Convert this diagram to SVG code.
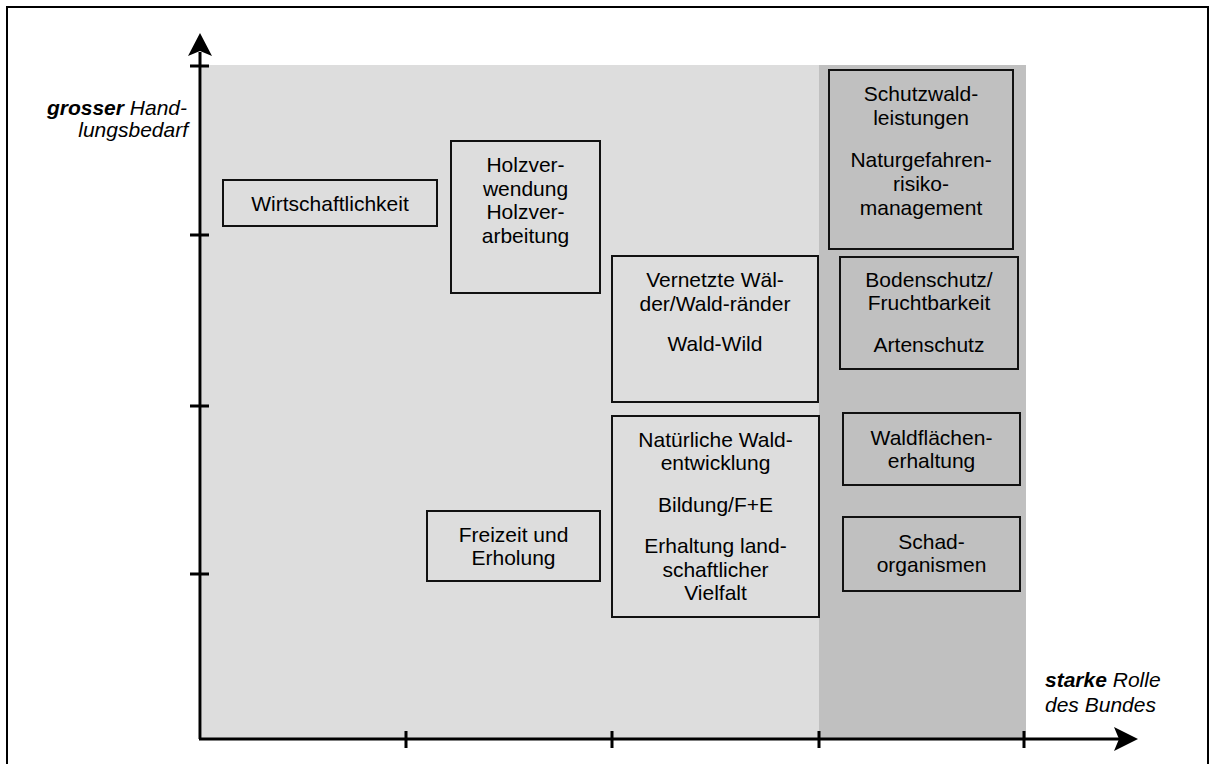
<svg xmlns="http://www.w3.org/2000/svg" width="1210" height="764" viewBox="0 0 1210 764">
  <style>
    .frame { fill: none; stroke: #000; stroke-width: 2; }
    .zone-a { fill: #dddddd; }
    .zone-b { fill: #c0c0c0; }
    .axis { stroke: #000; stroke-width: 3; fill: none; }
    .head { fill: #000; }
    .box { fill: none; stroke: #111; stroke-width: 2; }
    text { font-family: "Liberation Sans", Arial, sans-serif; font-size: 21px; fill: #000; }
    .c { text-anchor: middle; }
    .lbl { font-style: italic; }
    .lbl tspan.b { font-weight: bold; }
  </style>

  <!-- outer frame -->
  <rect class="frame" x="7" y="7" width="1201" height="780"/>

  <!-- background zones -->
  <rect class="zone-a" x="202" y="65" width="617" height="673"/>
  <rect class="zone-b" x="819" y="65" width="207" height="673"/>

  <!-- axes, ticks and arrowheads -->
  <g id="connectors">
    <path class="axis" d="M200,739 V52"/>
    <path class="axis" d="M199,739 H1122"/>
    <path class="axis" d="M190,66 H209 M190,235 H209 M190,406 H209 M190,574 H209"/>
    <path class="axis" d="M406,731 V748 M612,731 V748 M819,731 V748 M1024,731 V748"/>
    <path class="head" d="M200,33 L212,56 L200,51 L188,56 Z"/>
    <path class="head" d="M1138,739 L1114,727 L1119,739 L1114,751 Z"/>
  </g>

  <!-- axis captions -->
  <g id="label-y">
    <text class="lbl" x="187" y="115" text-anchor="end"><tspan class="b">grosser</tspan> Hand-</text>
    <text class="lbl" x="188" y="137" text-anchor="end">lungsbedarf</text>
  </g>
  <g id="label-x">
    <text class="lbl" x="1045" y="687"><tspan class="b">starke</tspan> Rolle</text>
    <text class="lbl" x="1045" y="712">des Bundes</text>
  </g>

  <!-- topic boxes -->
  <g id="wirtschaftlichkeit">
    <rect class="box" x="223" y="180" width="214" height="46"/>
    <text class="c" x="330" y="211">Wirtschaftlichkeit</text>
  </g>
  <g id="holz">
    <rect class="box" x="451" y="141" width="149" height="152"/>
    <text class="c" x="525.5" y="172">Holzver-</text>
    <text class="c" x="525.5" y="195.5">wendung</text>
    <text class="c" x="525.5" y="219">Holzver-</text>
    <text class="c" x="525.5" y="242.5">arbeitung</text>
  </g>
  <g id="vernetzte-waelder">
    <rect class="box" x="612" y="256" width="206" height="146"/>
    <text class="c" x="715" y="287">Vernetzte Wäl-</text>
    <text class="c" x="715" y="311">der/Wald-ränder</text>
    <text class="c" x="715" y="351">Wald-Wild</text>
  </g>
  <g id="natuerliche-entwicklung">
    <rect class="box" x="612" y="416" width="207" height="201"/>
    <text class="c" x="715.5" y="447">Natürliche Wald-</text>
    <text class="c" x="715.5" y="470">entwicklung</text>
    <text class="c" x="715.5" y="512">Bildung/F+E</text>
    <text class="c" x="715.5" y="553">Erhaltung land-</text>
    <text class="c" x="715.5" y="577">schaftlicher</text>
    <text class="c" x="715.5" y="600">Vielfalt</text>
  </g>
  <g id="freizeit">
    <rect class="box" x="427" y="511" width="173" height="70"/>
    <text class="c" x="513.5" y="541.5">Freizeit und</text>
    <text class="c" x="513.5" y="565">Erholung</text>
  </g>
  <g id="schutzwald">
    <rect class="box" x="829" y="70" width="184" height="179"/>
    <text class="c" x="921" y="100.5">Schutzwald-</text>
    <text class="c" x="921" y="124.5">leistungen</text>
    <text class="c" x="921" y="167">Naturgefahren-</text>
    <text class="c" x="921" y="191">risiko-</text>
    <text class="c" x="921" y="215">management</text>
  </g>
  <g id="bodenschutz">
    <rect class="box" x="840" y="257" width="178" height="112"/>
    <text class="c" x="929" y="286.5">Bodenschutz/</text>
    <text class="c" x="929" y="310">Fruchtbarkeit</text>
    <text class="c" x="929" y="351.5">Artenschutz</text>
  </g>
  <g id="waldflaechen">
    <rect class="box" x="843" y="413" width="177" height="72"/>
    <text class="c" x="931.5" y="444.5">Waldflächen-</text>
    <text class="c" x="931.5" y="468">erhaltung</text>
  </g>
  <g id="schadorganismen">
    <rect class="box" x="843" y="517" width="177" height="74"/>
    <text class="c" x="931.5" y="548.5">Schad-</text>
    <text class="c" x="931.5" y="572">organismen</text>
  </g>
</svg>
